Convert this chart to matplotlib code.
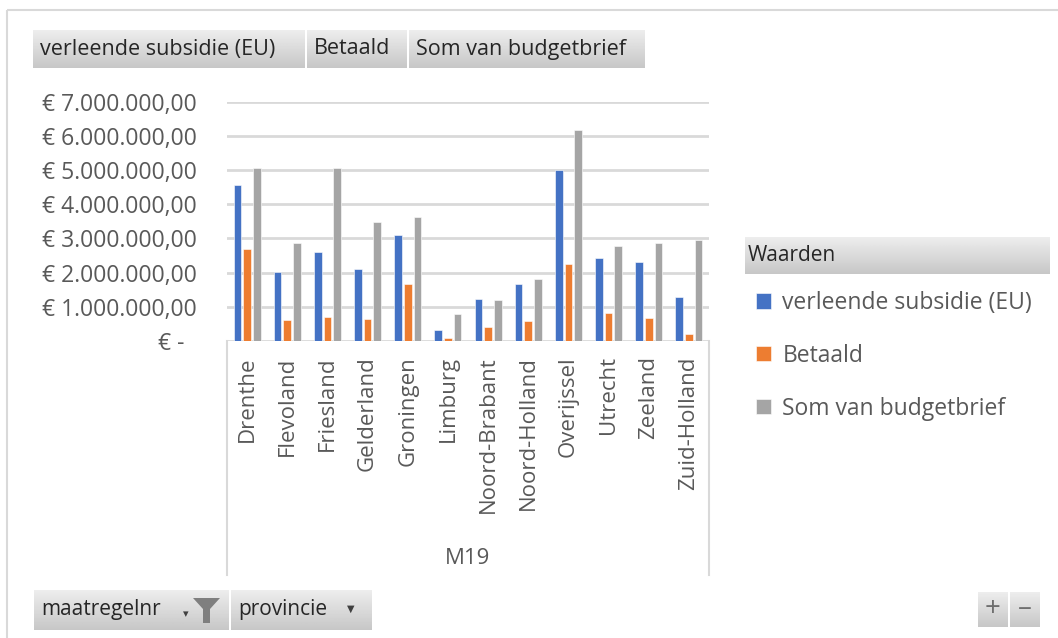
import numpy as np
import matplotlib
matplotlib.use("Agg")
import matplotlib.pyplot as plt
from matplotlib.patches import Rectangle, Polygon

plt.rcParams['font.family'] = ['Open Sans', 'DejaVu Sans']

# data
provincies = ['Drenthe', 'Flevoland', 'Friesland', 'Gelderland', 'Groningen', 'Limburg',
              'Noord-Brabant', 'Noord-Holland', 'Overijssel', 'Utrecht', 'Zeeland', 'Zuid-Holland']
verleend = [4550000, 2030000, 2600000, 2100000, 3100000, 320000,
            1240000, 1660000, 5010000, 2440000, 2320000, 1280000]
betaald = [2690000, 620000, 690000, 650000, 1660000, 80000,
           400000, 580000, 2250000, 830000, 670000, 200000]
budgetbrief = [5050000, 2850000, 5050000, 3480000, 3610000, 780000,
               1190000, 1820000, 6180000, 2780000, 2850000, 2940000]
series_names = ['verleende subsidie (EU)', 'Betaald', 'Som van budgetbrief']
colors = ['#4472c4', '#ed7d31', '#a5a5a5']
yticks = np.arange(0, 7000001, 1000000)

W, H = 1058, 638
fig = plt.figure(figsize=(W / 100, H / 100), dpi=100)

# background layer in pixel coordinates
bg = fig.add_axes([0, 0, 1, 1])
bg.set_xlim(0, W)
bg.set_ylim(H, 0)
bg.axis('off')

txt_gray = '#595959'
line_gray = '#d9d9d9'

# outer frame
bg.add_patch(Rectangle((7, 10), W, H, fill=False, ec=line_gray, lw=1.5))

grad = np.linspace(0.93, 0.78, 50).reshape(-1, 1)


def button(x0, x1, y0, y1, label, fs=15.5, tx=None):
    bg.imshow(grad, cmap='gray', vmin=0, vmax=1, aspect='auto',
              extent=(x0, x1, y1, y0), zorder=2)
    if label:
        bg.text(tx if tx else x0 + 7, (y0 + y1) / 2, label, fontsize=fs,
                color='#262626', va='center', ha='left', zorder=3)


# top field buttons
button(33, 305, 30, 68, 'verleende subsidie (EU)')
button(307, 407, 30, 68, 'Betaald')
button(409, 645, 30, 68, 'Som van budgetbrief')

# bottom field buttons
button(34, 229, 590, 630, 'maatregelnr', fs=15)
button(231, 372, 590, 630, 'provincie', fs=15)
bg.text(186, 614, '\u25be', fontsize=8, color='#404040', ha='center', va='center', zorder=3,
        family='DejaVu Sans')
bg.add_patch(Polygon([[193, 598], [220, 598], [210, 609], [210, 623], [203, 623], [203, 609]],
                     closed=True, fc='#7f7f7f', ec='none', zorder=3))
bg.text(351, 609, '\u25bc', fontsize=7, color='#404040', ha='center', va='center', zorder=3,
        family='DejaVu Sans')
button(978, 1008, 592, 627, None)
button(1010, 1040, 592, 627, None)
bg.text(993, 609, '+', fontsize=20, color='#6f6f6f', ha='center', va='center', zorder=3)
bg.text(1025, 608, '\u2013', fontsize=20, color='#6f6f6f', ha='center', va='center', zorder=3)

# legend header
button(745, 1050, 237, 274, 'Waarden', fs=15, tx=748)

# category box below the axis
bg.plot([227, 227], [341, 575], color=line_gray, lw=1.5)
bg.plot([709, 709], [341, 575], color=line_gray, lw=1.5)
bg.text(468, 558, 'M19', fontsize=16, color=txt_gray, ha='center', va='center')

# main plot
ax = fig.add_axes([227 / W, 1 - 341 / H, (709 - 227) / W, (341 - 101.5) / H])
x = np.arange(len(provincies))
bw = 0.19
offs = [-0.24, 0, 0.24]
handles = []
for vals, off, c, name in zip([verleend, betaald, budgetbrief], offs, colors, series_names):
    b = ax.bar(x + off, vals, width=bw, color=c, edgecolor='white', linewidth=0.4,
               label=name, zorder=3)
    handles.append(b)

ax.set_xlim(-0.5, len(provincies) - 0.5)
ax.set_ylim(0, 7000000)
ax.set_yticks(yticks)


def euro(v):
    if v == 0:
        return '\u20ac -  '
    s = '{:,.2f}'.format(v).replace(',', 'X').replace('.', ',').replace('X', '.')
    return '\u20ac ' + s


ax.set_yticklabels([euro(v) for v in yticks])
ax.yaxis.grid(True, color=line_gray, lw=2, zorder=0)
ax.tick_params(axis='y', length=0, pad=22, labelsize=16.5, labelcolor=txt_gray)
ax.set_xticks(x)
ax.set_xticklabels(provincies, rotation=90)
ax.tick_params(axis='x', length=0, pad=11, labelsize=16, labelcolor=txt_gray)
for s in ax.spines.values():
    s.set_visible(False)
ax.set_facecolor('none')

leg = fig.legend(handles=handles, labels=series_names, loc='upper left',
                 bbox_to_anchor=(756 / W, 1 - 291 / H), frameon=False, fontsize=16.5,
                 labelspacing=1.26, handlelength=0.65, handleheight=0.65,
                 handletextpad=0.5, borderaxespad=0, borderpad=0)
for t in leg.get_texts():
    t.set_color(txt_gray)

fig.savefig('out.png', dpi=100)
